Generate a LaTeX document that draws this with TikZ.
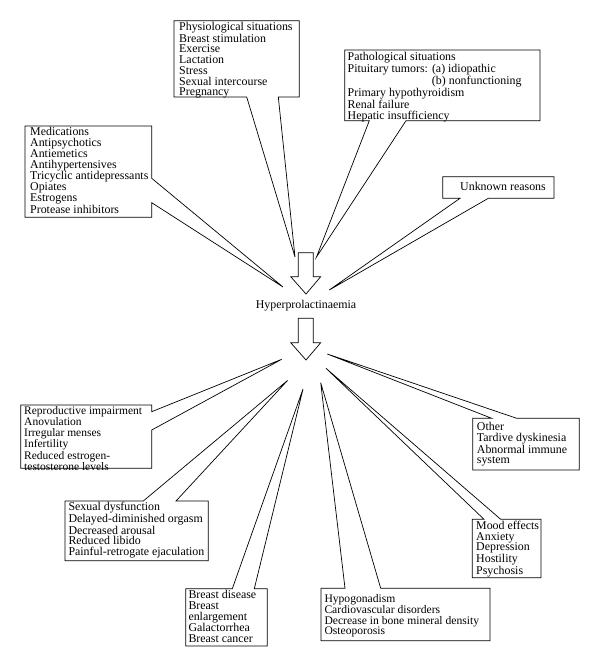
\documentclass[tikz,border=0pt]{standalone}
\usepackage{fontspec}
\setmainfont{Liberation Serif}
\begin{document}
\begin{tikzpicture}[x=1pt,y=-1pt,
  callout/.style={draw=black, fill=white, line width=0.7pt, line join=miter},
  blockarrow/.style={draw=black, fill=white, line width=0.7pt, line join=miter},
  txt/.style={anchor=north west, inner sep=0pt, align=left,
    font=\fontsize{11.9}{10.7}\selectfont, execute at begin node={\rule{0pt}{8.5pt}}},
  txttight/.style={txt, font=\fontsize{11.6}{10.2}\selectfont},
  txtrep/.style={txt, font=\fontsize{11.5}{10.2}\selectfont},
  txtloose/.style={txt, font=\fontsize{11.9}{11}\selectfont},
  label/.style={inner sep=0pt, font=\fontsize{11.9}{11}\selectfont}]
\useasboundingbox (0,0) rectangle (600,668);

% ---------- tips ----------
\coordinate (tPhys) at (295,257);
\coordinate (tPath) at (316.5,257);
\coordinate (tMed) at (283,287);
\coordinate (tUnk) at (329.3,290);
\coordinate (tRep) at (281.7,359.3);
\coordinate (tSex) at (287.5,380.5);
\coordinate (tBre) at (303,389);
\coordinate (tHyp) at (320.7,382.7);
\coordinate (tMood) at (326,368.3);
\coordinate (tOth) at (327.3,354);

% ---------- callouts (causes) ----------
\draw[callout] (174,20.7) -- (299.3,20.7) -- (299.3,97) -- (278.3,97) -- (tPhys) -- (246.7,97) -- (174,97) -- cycle;
\node[txt] (phys) at (179,22) {Physiological situations\\Breast stimulation\\Exercise\\Lactation\\Stress\\Sexual intercourse\\Pregnancy};

\draw[callout] (344.7,50) -- (540,50) -- (540,120.7) -- (406,120.7) -- (tPath) -- (369.3,120.7) -- (344.7,120.7) -- cycle;
\node[txt] (path) at (347.5,52.5) {Pathological situations\\Pituitary tumors: (a) idiopathic\\\phantom{Pituitary tumors: }(b) nonfunctioning\\Primary hypothyroidism\\Renal failure\\Hepatic insufficiency};

\draw[callout] (25,126) -- (151.7,126) -- (151.7,178.3) -- (tMed) -- (151.7,202.7) -- (151.7,217.3) -- (25,217.3) -- cycle;
\node[txt] (med) at (30,127.5) {Medications\\Antipsychotics\\Antiemetics\\Antihypertensives\\Tricyclic antidepressants\\Opiates\\Estrogens\\Protease inhibitors};

\draw[callout] (442.7,176.7) -- (554,176.7) -- (554,198.3) -- (488.3,198.3) -- (tUnk) -- (460,198.3) -- (442.7,198.3) -- cycle;
\node[label, anchor=base west] (unk) at (460,190.5) {Unknown reasons};

% ---------- central arrows ----------
\draw[blockarrow] (298.3,252.7) -- (313.3,252.7) -- (313.3,276.7) -- (320.7,276.7) -- (306,294) -- (290.7,276.7) -- (298.3,276.7) -- cycle;
\node[label] (hyper) at (306,306) {Hyperprolactinaemia};
\draw[blockarrow] (298.3,318.3) -- (313.3,318.3) -- (313.3,342.7) -- (320.7,342.7) -- (306,360) -- (290.7,342.7) -- (298.3,342.7) -- cycle;

% ---------- callouts (effects) ----------
\draw[callout] (20.7,405) -- (151.7,405) -- (151.7,411.7) -- (tRep) -- (151.7,430) -- (151.7,468.3) -- (20.7,468.3) -- cycle;
\node[txtrep] (rep) at (24,406.3) {Reproductive impairment\\Anovulation\\Irregular menses\\Infertility\\Reduced estrogen-\\testosterone levels};

\draw[callout] (65,501) -- (143.3,501) -- (tSex) -- (176,501) -- (208.3,501) -- (208.3,560.7) -- (65,560.7) -- cycle;
\node[txt] (sex) at (68.3,501.8) {Sexual dysfunction\\Delayed-diminished orgasm\\Decreased arousal\\Reduced libido\\Painful-retrogate ejaculation};

\draw[callout] (185.7,588.7) -- (232.3,588.7) -- (tBre) -- (254.3,588.7) -- (267.3,588.7) -- (267.3,646) -- (185.7,646) -- cycle;
\node[txtloose] (bre) at (188.3,590) {Breast disease\\Breast\\enlargement\\Galactorrhea\\Breast cancer};

\draw[callout] (321,588.3) -- (345,588.3) -- (tHyp) -- (380.7,588.3) -- (490,588.3) -- (490,640.7) -- (321,640.7) -- cycle;
\node[txttight] (hyp) at (324.3,594) {Hypogonadism\\Cardiovascular disorders\\Decrease in bone mineral density\\Osteoporosis};

\draw[callout] (472.3,519.3) -- (484,519.3) -- (tMood) -- (500.7,519.3) -- (541,519.3) -- (541,577.7) -- (472.3,577.7) -- cycle;
\node[txt] (mood) at (476,520.8) {Mood effects\\Anxiety\\Depression\\Hostility\\Psychosis};

\draw[callout] (472.7,418.3) -- (491.7,418.3) -- (tOth) -- (516.7,418.3) -- (579.3,418.3) -- (579.3,470) -- (472.7,470) -- cycle;
\node[txt] (oth) at (476.7,422.2) {Other\\Tardive dyskinesia\\Abnormal immune\\system};
\end{tikzpicture}
\end{document}
